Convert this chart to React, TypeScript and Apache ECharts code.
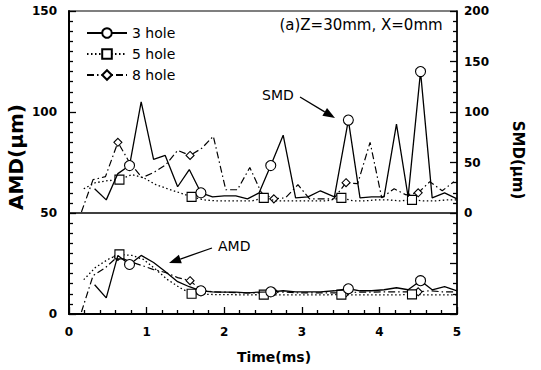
import React, { useEffect, useRef } from 'react';
import * as echarts from 'echarts';

// ---- data ----
const seriesNames = ['3 hole', '5 hole', '8 hole'];

const t3 = [0.33, 0.48, 0.63, 0.78, 0.93, 1.09, 1.24, 1.40, 1.55, 1.70, 1.85, 2.00, 2.15, 2.30, 2.45, 2.60, 2.76, 2.92, 3.08, 3.24, 3.42, 3.60, 3.75, 3.90, 4.06, 4.22, 4.37, 4.53, 4.68, 4.84, 5.00];
const smd3 = [24, 13, 39, 47, 110, 53, 57, 26, 43, 20, 16, 17, 17, 14, 20, 47, 77, 15, 16, 22, 16, 92, 15, 16, 16, 88, 16, 140, 15, 20, 14];
const amd3 = [14.5, 8, 29, 24.5, 29, 25.5, 21, 16, 13.5, 11.5, 11, 10.8, 10.8, 10.5, 10.8, 11, 11.5, 11, 11, 11, 11.5, 12.5, 11.5, 11.5, 12, 13, 12, 16.5, 12, 13.5, 11.5];
const mark3 = [3, 9, 15, 21, 27];

const t5 = [0.19, 0.34, 0.50, 0.65, 0.81, 0.96, 1.12, 1.27, 1.43, 1.58, 1.74, 1.89, 2.05, 2.20, 2.36, 2.51, 2.67, 2.83, 2.99, 3.15, 3.31, 3.51, 3.66, 3.81, 3.96, 4.11, 4.26, 4.42, 4.57, 4.72, 4.87, 5.00];
const smd5 = [24, 30, 32, 33, 38, 35, 28, 24, 20, 16, 13, 12, 12, 12, 12, 15, 12, 12, 12, 12, 12, 15, 12, 12, 13, 13, 12, 13, 12, 12, 13, 13];
const amd5 = [17, 23, 27, 29.5, 29, 27, 22, 17, 13, 10, 9.8, 9.6, 9.6, 9.5, 9.5, 9.6, 9.5, 9.5, 9.5, 9.5, 9.5, 9.6, 9.5, 9.5, 9.5, 9.5, 9.5, 9.7, 9.5, 9.5, 9.5, 9.5];
const mark5 = [3, 9, 15, 21, 27];

const t8 = [0.16, 0.31, 0.47, 0.63, 0.78, 0.94, 1.09, 1.25, 1.40, 1.56, 1.71, 1.86, 2.02, 2.17, 2.33, 2.48, 2.64, 2.79, 2.95, 3.10, 3.26, 3.41, 3.57, 3.72, 3.88, 4.03, 4.19, 4.34, 4.50, 4.65, 4.81, 4.96];
const smd8 = [1, 33, 36, 70, 50, 35, 40, 48, 62, 57, 64, 76, 23, 23, 45, 20, 14, 15, 28, 14, 14, 14, 30, 29, 70, 15, 24, 18, 20, 31, 22, 31];
const amd8 = [1, 19, 23, 28.5, 26, 24, 22, 20.5, 18, 16.5, 11.5, 11, 10.8, 10.5, 10.5, 10.5, 11, 10.8, 10.5, 10.5, 10.5, 10.5, 10.5, 10.8, 10.8, 11, 11, 11, 11, 11.5, 11, 11];
const mark8 = [3, 9, 16, 22, 28];

const FONT = 'DejaVu Sans';

function buildData(t: number[], v: number[], marks: number[]) {
  return t.map((x, i) => {
    const item: any = { value: [x, v[i]] };
    if (!marks.includes(i)) item.symbol = 'none';
    return item;
  });
}

function arrow(x1: number, y1: number, x2: number, y2: number) {
  const dx = x2 - x1, dy = y2 - y1;
  const len = Math.sqrt(dx * dx + dy * dy);
  const ux = dx / len, uy = dy / len;
  const head = 12, half = 4.5;
  const bx = x2 - ux * head, by = y2 - uy * head;
  return [
    { type: 'line', shape: { x1, y1, x2: bx, y2: by }, style: { stroke: '#000', lineWidth: 1.3 } },
    {
      type: 'polygon',
      shape: { points: [[x2, y2], [bx - uy * half, by + ux * half], [bx + uy * half, by - ux * half]] },
      style: { fill: '#000' },
    },
  ];
}

function txt(text: string, x: number, y: number, size: number, opts: any = {}) {
  return {
    type: 'text',
    x,
    y,
    rotation: opts.rotation || 0,
    style: {
      text,
      fill: '#000',
      fontFamily: FONT,
      fontSize: size,
      fontWeight: opts.bold ? 'bold' : 'normal',
      align: opts.align || 'left',
      verticalAlign: 'middle',
    },
  };
}

export default function App() {
  const ref = useRef<HTMLDivElement>(null);
  useEffect(() => {
    const chart = echarts.init(ref.current!, null, { renderer: 'svg' });
    const styles = [
      { symbol: 'circle', size: 10, line: { type: 'solid', width: 1.3 } },
      { symbol: 'rect', size: 9, line: { type: [1.5, 2.5], width: 1.3 } },
      { symbol: 'diamond', size: 8, line: { type: [7, 3, 1.5, 3], width: 1.2 } },
    ];
    const groups = [
      { t: t3, smd: smd3, amd: amd3, marks: mark3 },
      { t: t5, smd: smd5, amd: amd5, marks: mark5 },
      { t: t8, smd: smd8, amd: amd8, marks: mark8 },
    ];
    const series: any[] = [];
    groups.forEach((g, k) => {
      const st = styles[k];
      const base = {
        type: 'line',
        name: seriesNames[k],
        symbol: st.symbol,
        symbolSize: st.size,
        showSymbol: true,
        lineStyle: { color: '#000', width: st.line.width, type: st.line.type },
        itemStyle: { color: '#fff', borderColor: '#000', borderWidth: 1.1 },
        z: 3 - k,
      };
      series.push({ ...base, yAxisIndex: 1, data: buildData(g.t, g.smd, g.marks) });
      series.push({ ...base, yAxisIndex: 0, data: buildData(g.t, g.amd, g.marks) });
    });
    series[1].markLine = {
      silent: true,
      symbol: 'none',
      label: { show: false },
      lineStyle: { color: '#000', width: 1.6, type: 'solid' },
      data: [{ yAxis: 50 }],
    };

    const labelStyle = { color: '#000', fontFamily: FONT, fontWeight: 'bold', fontSize: 12 };
    const tickLine = { color: '#000', width: 1.3 };
    const option: any = {
      animation: false,
      backgroundColor: '#fff',
      grid: { left: 69, right: 84, top: 11, bottom: 56, show: true, borderColor: '#000', borderWidth: 1.2 },
      legend: {
        data: seriesNames,
        orient: 'vertical',
        left: 86,
        top: 26,
        padding: 0,
        itemWidth: 40,
        itemHeight: 12,
        itemGap: 7,
        textStyle: { color: '#000', fontFamily: FONT, fontSize: 14, lineHeight: 14 },
      },
      xAxis: {
        type: 'value',
        min: 0,
        max: 5,
        interval: 1,
        axisLine: { lineStyle: { color: '#000', width: 2 } },
        axisTick: { inside: true, length: 7, lineStyle: tickLine },
        minorTick: { show: true, splitNumber: 5, length: 4, lineStyle: tickLine },
        axisLabel: { ...labelStyle, margin: 12 },
        splitLine: { show: false },
      },
      yAxis: [
        {
          type: 'value',
          min: 0,
          max: 150,
          interval: 50,
          axisLine: { show: true, lineStyle: { color: '#000', width: 2 } },
          axisTick: { show: true, inside: true, length: 7, lineStyle: tickLine },
          minorTick: { show: true, splitNumber: 10, length: 4, lineStyle: tickLine },
          axisLabel: { ...labelStyle, margin: 12 },
          splitLine: { show: false },
        },
        {
          type: 'value',
          position: 'right',
          min: -100,
          max: 200,
          interval: 50,
          axisLine: { show: true, lineStyle: { color: '#000', width: 1.5 } },
          axisTick: { show: true, inside: true, length: 7, lineStyle: tickLine },
          minorTick: { show: true, splitNumber: 5, length: 4, lineStyle: tickLine },
          axisLabel: { ...labelStyle, margin: 7, formatter: (v: number) => (v < 0 ? '' : String(v)) },
          splitLine: { show: false },
        },
      ],
      series,
      graphic: [
        txt('(a)Z=30mm, X=0mm', 361, 25, 15, { align: 'center' }),
        txt('SMD', 262, 95, 14),
        txt('AMD', 218, 246, 14),
        ...arrow(300, 97, 335, 118),
        ...arrow(212, 248, 169, 263),
        txt('Time(ms)', 274, 357, 14, { bold: true, align: 'center' }),
        txt('AMD(μm)', 16, 157, 20, { bold: true, align: 'center', rotation: Math.PI / 2 }),
        txt('SMD(μm)', 518, 160, 15, { bold: true, align: 'center', rotation: -Math.PI / 2 }),
      ],
    };
    chart.setOption(option);
    return () => chart.dispose();
  }, []);
  return (
    <div
      ref={ref}
      style={{ position: 'fixed', left: 0, top: 0, width: 541, height: 370, background: '#fff' }}
    />
  );
}
